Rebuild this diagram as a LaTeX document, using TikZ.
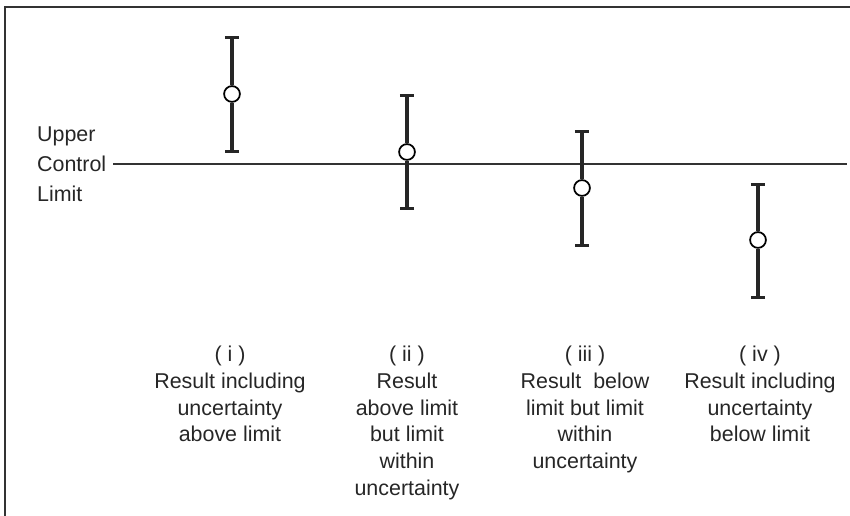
\documentclass[tikz,border=0pt]{standalone}
\usepackage{fontspec}
\setmainfont{Liberation Sans}
\usetikzlibrary{arrows.meta}

\begin{document}
\begin{tikzpicture}[x=0.02cm,y=-0.02cm,
    frame/.style={line width=1.4pt, black!80},
    bar/.style={line width=1.8pt, black!85},
    res/.style={circle, draw, line width=1pt, fill=white, minimum size=9pt, inner sep=0pt},
    caption/.style={align=center, anchor=north, font=\fontsize{12.2}{15.2}\selectfont, text=black!85}]
    \useasboundingbox (0,0) rectangle (850,516);
    \draw[frame] (4,7) -- (850,7);
    \draw[frame] (5,7) -- (5,516);

    % control limit
    \node[align=left, anchor=west, inner sep=1pt, font=\fontsize{12.2}{17}\selectfont, text=black!85] (ucl) at (35,164) {Upper\\Control\\Limit};
    \coordinate (lim) at (847,164);
    \draw[frame] (ucl.east |- lim) ++(5,0) -- (lim);

    % error bars
    \foreach \n/\x/\t/\m/\b in {1/232/36/94/153, 2/407/94/152/210, 3/582/130/188/247, 4/758/183/240/299}
    {
	\coordinate (t\n) at (\x,\t);
	\coordinate (b\n) at (\x,\b);
	\node[res] (p\n) at (\x,\m) {};
	\draw[bar, {Bar[width=8pt]}-] (t\n) -- (p\n);
	\draw[bar, -{Bar[width=8pt]}] (p\n) -- (b\n);
    }

    % cases
    \node[caption] (c1) at (230,340) {( i )\\Result including\\uncertainty\\above limit};
    \node[caption] (c2) at (407,340) {( ii )\\Result\\above limit\\but limit\\within\\uncertainty};
    \node[caption] (c3) at (585,340) {( iii )\\Result\ \ below\\limit but limit\\within\\uncertainty};
    \node[caption] (c4) at (760,340) {( iv )\\Result including\\uncertainty\\below limit};
\end{tikzpicture}
\end{document}
